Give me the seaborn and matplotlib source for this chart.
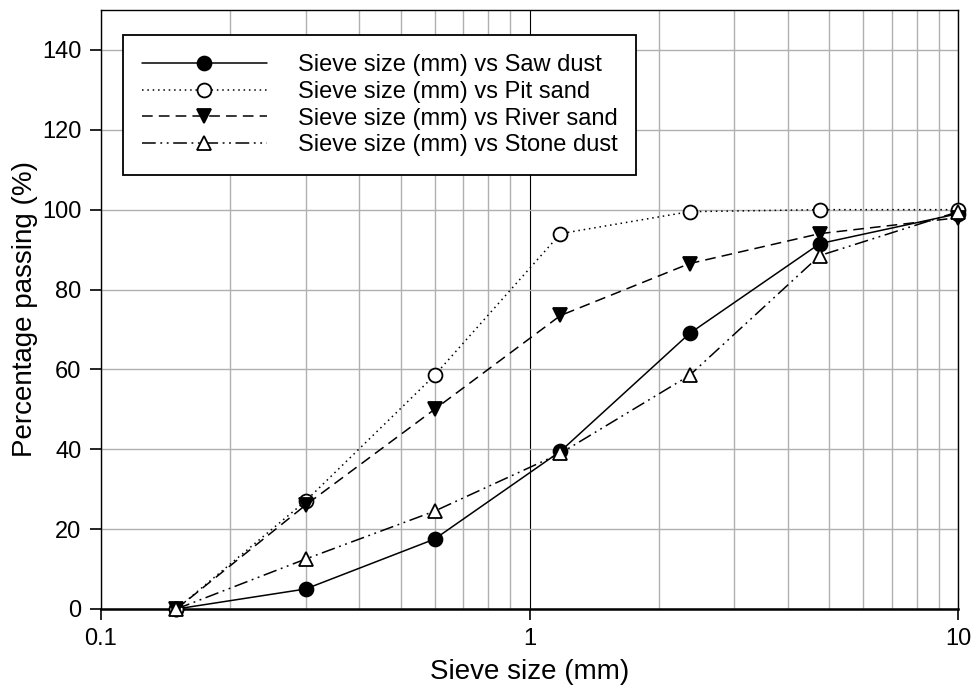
import matplotlib
matplotlib.use('Agg')
import matplotlib.pyplot as plt
import seaborn as sns
from matplotlib.lines import Line2D
from matplotlib.ticker import LogLocator, NullFormatter, FixedLocator

# Datos
sieve_mm = [0.15, 0.3, 0.6, 1.18, 2.36, 4.75, 10]
saw_dust = [0, 5, 17.5, 39.5, 69, 91.5, 99]
pit_sand = [0, 27, 58.5, 94, 99.5, 100, 100]
river_sand = [0, 26, 50, 73.5, 86.5, 94, 98]
stone_dust = [0, 12.5, 24.5, 39, 58.5, 88.5, 99.5]

labels = ['Sieve size (mm) vs Saw dust', 'Sieve size (mm) vs Pit sand',
          'Sieve size (mm) vs River sand', 'Sieve size (mm) vs Stone dust']

sns.set_style('white')
plt.rcParams['font.family'] = ['Liberation Sans', 'DejaVu Sans']
plt.rcParams['text.color'] = 'black'
plt.rcParams['axes.labelcolor'] = 'black'

fig = plt.figure(figsize=(9.71, 6.91), dpi=100)
ax = fig.add_axes([0.104, 0.1187, 0.883, 0.8668])

series = [
    (saw_dust, '-', 'o', 'black'),
    (pit_sand, (0, (1, 2.5)), 'o', 'white'),
    (river_sand, (0, (7, 4)), 'v', 'black'),
    (stone_dust, (0, (9, 3, 1.2, 3, 1.2, 3)), '^', 'white'),
]

handles = []
for (vals, ls, mk, fc), lab in zip(series, labels):
    sns.lineplot(x=sieve_mm, y=vals, ax=ax, color='black', linewidth=1.1,
                 linestyle=ls, marker=mk, markersize=10, markerfacecolor=fc,
                 markeredgecolor='black', markeredgewidth=1.3, zorder=3,
                 clip_on=False)
    handles.append(Line2D([], [], color='black', linewidth=1.1, linestyle=ls,
                          marker=mk, markersize=10, markerfacecolor=fc,
                          markeredgecolor='black', markeredgewidth=1.3))

ax.set_xscale('log')
ax.set_xlim(0.1, 10)
ax.set_ylim(0, 150)
ax.xaxis.set_major_locator(FixedLocator([0.1, 1, 10]))
ax.xaxis.set_minor_locator(LogLocator(base=10, subs=range(2, 10)))
ax.xaxis.set_minor_formatter(NullFormatter())
ax.set_xticks([0.1, 1, 10])
ax.set_xticklabels(['0.1', '1', '10'])
ax.set_yticks(range(0, 141, 20))

ax.grid(True, which='major', axis='x', color='black', linewidth=0.8)
ax.grid(True, which='minor', axis='x', color='#b0b0b0', linewidth=1.0)
ax.grid(True, which='major', axis='y', color='#b0b0b0', linewidth=1.0)
ax.set_axisbelow(True)

for side in ['left', 'right', 'top']:
    ax.spines[side].set_linewidth(1.0)
    ax.spines[side].set_color('black')
ax.spines['bottom'].set_linewidth(1.8)
ax.spines['bottom'].set_color('black')

ax.tick_params(axis='both', which='major', direction='out', length=8, width=1.2,
               labelsize=17, colors='black', left=True, bottom=True, pad=6)
ax.tick_params(axis='x', which='minor', length=0)

ax.set_xlabel('Sieve size (mm)', fontsize=20, labelpad=6)
ax.set_ylabel('Percentage passing (%)', fontsize=20, labelpad=3)

leg = ax.legend(handles, labels, loc='upper left',
                bbox_to_anchor=(0.0257, 0.958), borderaxespad=0,
                fontsize=17, frameon=True, fancybox=False,
                edgecolor='black', handlelength=5.3, handletextpad=1.3,
                labelspacing=0.2, borderpad=0.8, numpoints=1)
leg.get_frame().set_linewidth(1.3)
leg.get_frame().set_alpha(1)

fig.savefig('out.png', dpi=100, facecolor='white')
